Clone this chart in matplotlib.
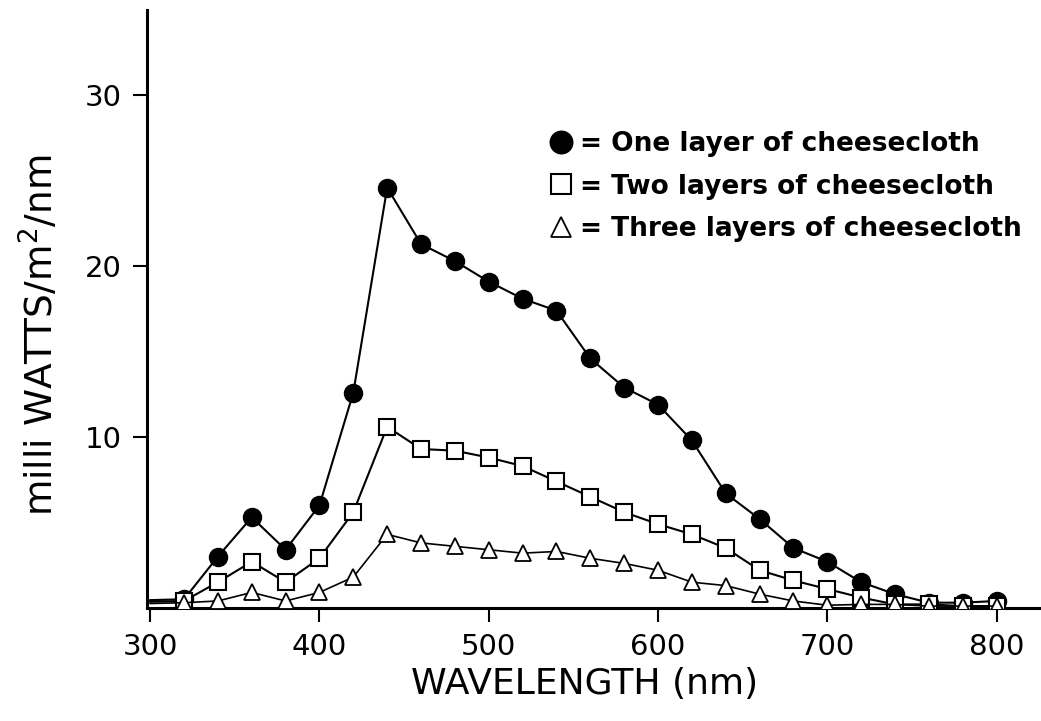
import matplotlib
matplotlib.use("Agg")
import matplotlib.pyplot as plt

# irradiance under cheesecloth shading, 300-800 nm in 20 nm steps
wavelength = [300, 320, 340, 360, 380, 400, 420, 440, 460, 480, 500, 520, 540,
              560, 580, 600, 620, 640, 660, 680, 700, 720, 740, 760, 780, 800]
one_layer = [0.45, 0.5, 3.0, 5.3, 3.4, 6.0, 12.6, 24.6, 21.3, 20.3, 19.1, 18.1, 17.4,
             14.6, 12.9, 11.9, 9.8, 6.7, 5.2, 3.5, 2.7, 1.5, 0.8, 0.3, 0.3, 0.4]
two_layers = [0.35, 0.4, 1.5, 2.7, 1.5, 2.9, 5.6, 10.6, 9.3, 9.2, 8.8, 8.3, 7.4,
              6.5, 5.6, 4.9, 4.3, 3.5, 2.2, 1.6, 1.1, 0.6, 0.2, 0.2, 0.1, 0.1]
three_layers = [0.25, 0.3, 0.4, 0.9, 0.4, 0.9, 1.8, 4.3, 3.8, 3.6, 3.4, 3.2, 3.3,
                2.9, 2.6, 2.2, 1.5, 1.3, 0.8, 0.4, 0.15, 0.2, 0.2, 0.1, 0.1, 0.1]

labels = ["= One layer of cheesecloth",
          "= Two layers of cheesecloth",
          "= Three layers of cheesecloth"]

plt.rcParams['font.family'] = ['DejaVu Sans']

fig = plt.figure(figsize=(10.41, 7.21), dpi=100)
ax = fig.add_axes([0.141, 0.157, 0.857, 0.829])

mk = range(1, len(wavelength))
ax.plot(wavelength, one_layer, color='black', lw=1.5, marker='o', ms=13,
        mfc='black', mec='black', markevery=mk, label=labels[0], zorder=3)
ax.plot(wavelength, two_layers, color='black', lw=1.5, marker='s', ms=12,
        mfc='white', mec='black', mew=1.5, markevery=mk, label=labels[1], zorder=4)
ax.plot(wavelength, three_layers, color='black', lw=1.2, marker='^', ms=12,
        mfc='white', mec='black', mew=1.3, markevery=mk, label=labels[2], zorder=5)

ax.set_xlim(298, 825)
ax.set_ylim(0, 35)
ax.set_xticks([300, 400, 500, 600, 700, 800])
ax.set_yticks([10, 20, 30])
ax.tick_params(axis='both', direction='out', length=10, width=1.5,
               labelsize=21, pad=8)

for side in ['top', 'right']:
    ax.spines[side].set_visible(False)
for side in ['left', 'bottom']:
    ax.spines[side].set_linewidth(2.2)

ax.set_xlabel("WAVELENGTH (nm)", fontsize=26)
ax.set_ylabel("milli WATTS/m$^2$/nm", fontsize=27)
ax.xaxis.set_label_coords(0.491, -0.127, transform=ax.transAxes)
ax.yaxis.set_label_coords(-0.12, 0.456, transform=ax.transAxes)
ax.xaxis.label.set_va('center')
ax.yaxis.label.set_va('center')

leg = ax.legend(loc='upper left', bbox_to_anchor=(0.529, 0.818),
                bbox_transform=fig.transFigure, frameon=False,
                prop={'size': 19, 'weight': 'bold'}, handlelength=0.8,
                handletextpad=0.3, labelspacing=0.62, borderaxespad=0,
                borderpad=0, markerscale=1.25)
for h in leg.legend_handles:
    h.set_linestyle('none')

fig.savefig("out.png", dpi=100)
